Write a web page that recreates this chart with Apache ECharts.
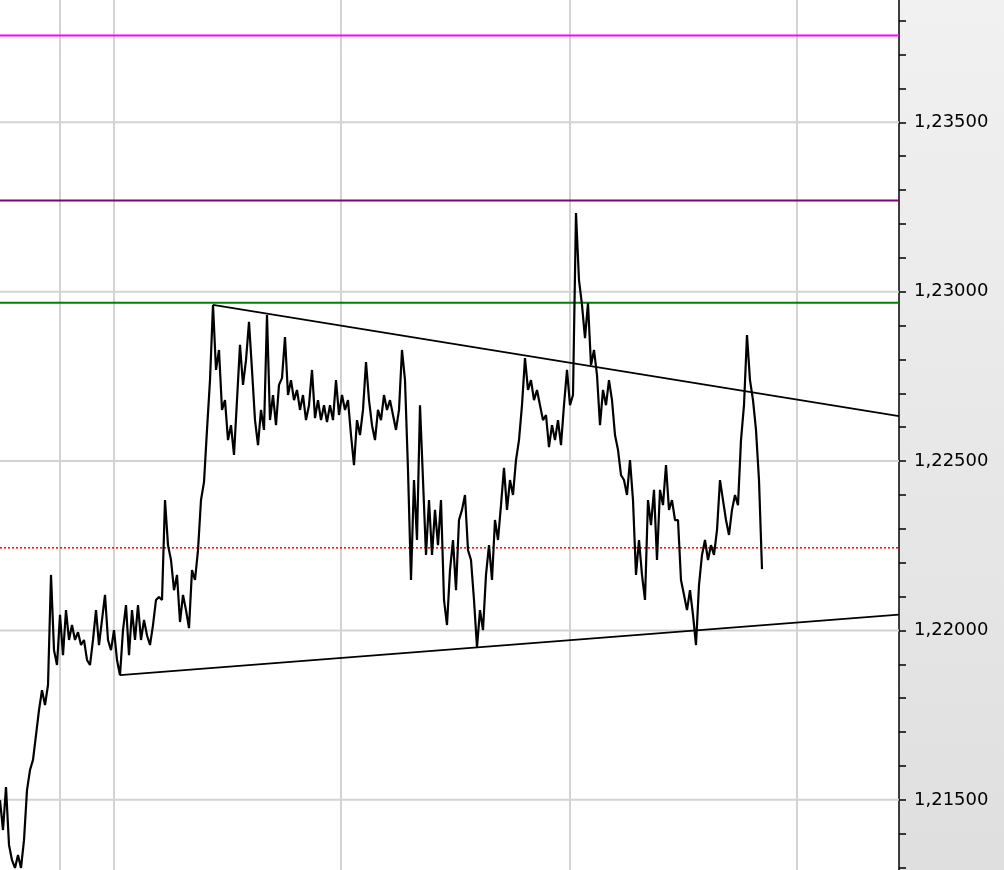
<!DOCTYPE html>
<html>
<head>
<meta charset="utf-8">
<script src="https://cdn.jsdelivr.net/npm/echarts@6/dist/echarts.min.js"></script>
<style>
  html, body { margin: 0; padding: 0; }
  #chart { width: 1004px; height: 870px; }
</style>
</head>
<body>
<div id="chart"></div>
<script>
// price samples, one every bar (bar index = x value)
const prices = [
  1.21499, 1.21411, 1.21538, 1.21367, 1.21322, 1.21299, 1.21337, 1.21299, 1.21381, 1.21529,
  1.21588, 1.21618, 1.21691, 1.21765, 1.21824, 1.21780, 1.21839, 1.22164, 1.21942, 1.21898,
  1.22046, 1.21927, 1.22060, 1.21972, 1.22016, 1.21972, 1.21995, 1.21957, 1.21972, 1.21913,
  1.21898, 1.21972, 1.22060, 1.21957, 1.22031, 1.22105, 1.21972, 1.21942, 1.22001, 1.21913,
  1.21868, 1.22001, 1.22075, 1.21927, 1.22060, 1.21972, 1.22075, 1.21972, 1.22031, 1.21986,
  1.21957, 1.22016, 1.22090, 1.22099, 1.22090, 1.22385, 1.22252, 1.22208, 1.22119, 1.22164,
  1.22025, 1.22105, 1.22060, 1.22007, 1.22178, 1.22149, 1.22237, 1.22385, 1.22438, 1.22592,
  1.22739, 1.22961, 1.22769, 1.22828, 1.22651, 1.22680, 1.22562, 1.22606, 1.22518, 1.22680,
  1.22843, 1.22725, 1.22798, 1.22911, 1.22769, 1.22621, 1.22547, 1.22651, 1.22592, 1.22931,
  1.22621, 1.22695, 1.22606, 1.22725, 1.22745, 1.22866, 1.22695, 1.22739, 1.22680, 1.22710,
  1.22651, 1.22695, 1.22621, 1.22665, 1.22769, 1.22627, 1.22680, 1.22621, 1.22665, 1.22615,
  1.22665, 1.22621, 1.22739, 1.22636, 1.22695, 1.22651, 1.22680, 1.22577, 1.22488, 1.22621,
  1.22577, 1.22651, 1.22792, 1.22680, 1.22606, 1.22562, 1.22651, 1.22621, 1.22695, 1.22651,
  1.22680, 1.22636, 1.22592, 1.22651, 1.22828, 1.22739, 1.22474, 1.22149, 1.22444, 1.22267,
  1.22665, 1.22444, 1.22223, 1.22385, 1.22223, 1.22356, 1.22252, 1.22385, 1.22090, 1.22016,
  1.22178, 1.22267, 1.22119, 1.22326, 1.22356, 1.22400, 1.22237, 1.22208, 1.22090, 1.21951,
  1.22060, 1.22001, 1.22164, 1.22252, 1.22149, 1.22326, 1.22267, 1.22370, 1.22480, 1.22356,
  1.22444, 1.22400, 1.22503, 1.22562, 1.22665, 1.22804, 1.22710, 1.22739, 1.22680, 1.22710,
  1.22665, 1.22621, 1.22636, 1.22541, 1.22606, 1.22562, 1.22621, 1.22547, 1.22665, 1.22769,
  1.22665, 1.22695, 1.23232, 1.23034, 1.22961, 1.22863, 1.22966, 1.22783, 1.22828, 1.22754,
  1.22606, 1.22710, 1.22665, 1.22739, 1.22680, 1.22577, 1.22533, 1.22459, 1.22444, 1.22400,
  1.22503, 1.22385, 1.22164, 1.22267, 1.22164, 1.22090, 1.22385, 1.22311, 1.22415, 1.22208,
  1.22415, 1.22370, 1.22488, 1.22356, 1.22385, 1.22326, 1.22326, 1.22149, 1.22105, 1.22060,
  1.22119, 1.22046, 1.21957, 1.22134, 1.22223, 1.22267, 1.22208, 1.22252, 1.22223, 1.22296,
  1.22444, 1.22385, 1.22326, 1.22282, 1.22356, 1.22400, 1.22370, 1.22562, 1.22665, 1.22872,
  1.22739, 1.22680, 1.22592, 1.22444, 1.22181
];

// session separators (bar index) and visible range
const sessionBreaks = [20, 38, 113.67, 190, 265.67];
const xMax = 299.67;
const yMin = 1.21293;
const yMax = 1.23861;

const labelTicks = [1.215, 1.22, 1.225, 1.23, 1.235];
const minorTicks = [1.213, 1.214, 1.215, 1.216, 1.217, 1.218, 1.219, 1.22, 1.221, 1.222, 1.223,
  1.224, 1.225, 1.226, 1.227, 1.228, 1.229, 1.23, 1.231, 1.232, 1.233, 1.234, 1.235, 1.236, 1.237, 1.238];

// horizontal levels: magenta, purple, green, red dotted
const levelValues = [1.23756, 1.23269, 1.22967, 1.22244];
const levelColors = ["#ff00ff", "#800080", "#008000", "#ff0000"];

// triangle trend lines
const upperTrend = [[71, 1.22961], [xMax, 1.22633]];
const lowerTrend = [[40, 1.21868], [xMax, 1.22047]];

const chart = echarts.init(document.getElementById("chart"));

// horizontal grid at the labelled prices
const gridSeries = labelTicks.map((v) => ({
  type: "line",
  data: [[0, v], [xMax, v]],
  symbol: "none",
  silent: true,
  z: 1,
  lineStyle: { color: "#d3d3d3", width: 2 },
}));

const levelSeries = levelValues.map((v, k) => ({
  type: "line",
  data: [[0, v], [xMax, v]],
  symbol: "none",
  silent: true,
  z: 3,
  lineStyle: {
    color: levelColors[k],
    width: k === 3 ? 1.5 : 2,
    type: k === 3 ? [2, 2] : "solid",
  },
}));

const option = {
  animation: false,
  backgroundColor: {
    type: "linear", x: 0, y: 0, x2: 0, y2: 1,
    colorStops: [
      { offset: 0, color: "#f1f1f1" },
      { offset: 1, color: "#dfdfdf" },
    ],
  },
  grid: {
    left: 0,
    right: 105,
    top: 0,
    bottom: 0,
    show: true,
    backgroundColor: "#ffffff",
    borderWidth: 0,
  },
  xAxis: {
    type: "value",
    min: 0,
    max: xMax,
    axisLine: { show: false, onZero: false },
    axisLabel: { show: false },
    axisTick: { show: false, customValues: sessionBreaks },
    splitLine: { show: true, lineStyle: { color: "#d3d3d3", width: 2 } },
  },
  yAxis: {
    type: "value",
    position: "right",
    min: yMin,
    max: yMax,
    axisLine: { show: true, onZero: false, lineStyle: { color: "#000", width: 1.5 } },
    axisTick: {
      show: true,
      customValues: minorTicks,
      length: 7,
      lineStyle: { color: "#000", width: 1.5 },
    },
    axisLabel: {
      show: true,
      customValues: labelTicks,
      margin: 15,
      color: "#000",
      fontSize: 18,
      fontFamily: "DejaVu Sans",
      formatter: (v) => v.toFixed(5).replace(".", ","),
    },
    splitLine: { show: false },
  },
  series: [
    ...gridSeries,
    ...levelSeries,
    {
      type: "line",
      data: upperTrend,
      symbol: "none",
      silent: true,
      z: 4,
      lineStyle: { color: "#000", width: 1.8 },
    },
    {
      type: "line",
      data: lowerTrend,
      symbol: "none",
      silent: true,
      z: 4,
      lineStyle: { color: "#000", width: 1.8 },
    },
    {
      name: "price",
      type: "line",
      data: prices.map((v, i) => [i, v]),
      symbol: "none",
      z: 5,
      lineStyle: { color: "#000", width: 2.2 },
    },
  ],
};

chart.setOption(option);
</script>
</body>
</html>
